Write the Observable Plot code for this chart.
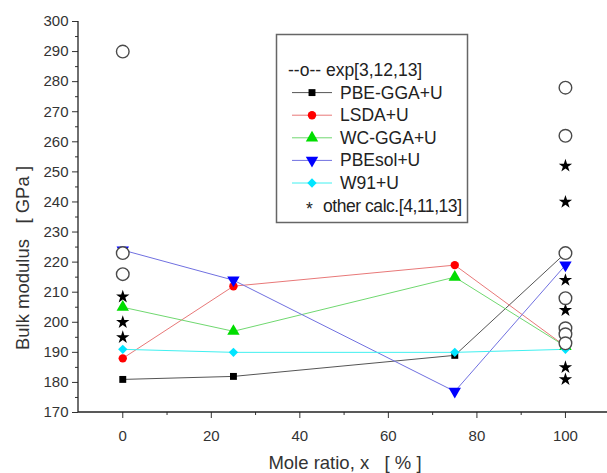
<!DOCTYPE html>
<html>
<head>
<meta charset="utf-8">
<script src="https://cdn.jsdelivr.net/npm/d3@7"></script>
<script src="https://cdn.jsdelivr.net/npm/@observablehq/plot@0.6"></script>
<style>
  html, body { margin: 0; padding: 0; background: #fff; }
  #chart { position: relative; width: 607px; height: 473px; }
</style>
</head>
<body>
<div id="chart"></div>
<script>
// ---- data ----
const ratios = [0, 25, 75, 100];
const seriesNames = ["PBE-GGA+U", "LSDA+U", "WC-GGA+U", "PBEsol+U", "W91+U"];
const pbeGGA = [181, 182, 189, 223];
const lsda = [188, 212, 219, 192];
const wcGGA = [205, 197, 215, 192];
const pbesol = [224, 214, 177, 219];
const w91 = [191, 190, 190, 191];
const seriesColors = ["#000000", "#ff0000", "#00dd00", "#0000ff", "#00e5ff"];
const lineColors = ["#555555", "#e87878", "#70d870", "#7070e0", "#40f0f0"];
const seriesSymbols = ["square", "circle", "triangle", "triangle", "diamond2"];
const seriesRotate = [0, 0, 0, 180, 0];
const seriesR = [3.9, 4.2, 4.6, 4.6, 4.2];

const expX = [0, 0, 0, 100, 100, 100, 100, 100, 100, 100];
const expY = [290, 223, 216, 278, 262, 223, 208, 198, 196, 193];
const otherX = [0, 0, 0, 100, 100, 100, 100, 100, 100];
const otherY = [208.5, 200, 195, 252, 240, 214, 204, 185, 181];

const yMajor = [170, 180, 190, 200, 210, 220, 230, 240, 250, 260, 270, 280, 290, 300];
const yMinor = [175, 185, 195, 205, 215, 225, 235, 245, 255, 265, 275, 285, 295];
const xMajor = [0, 20, 40, 60, 80, 100];
const xMinor = [10, 30, 50, 70, 90];

const legendLabels = ["--o-- exp[3,12,13]", ...seriesNames, "other calc.[4,11,13]"];
const yTitle = "Bulk modulus   [ GPa ]";
const xTitle = "Mole ratio, x   [ % ]";

// ---- tables ----
const allSeries = [pbeGGA, lsda, wcGGA, pbesol, w91];
const rows = [];
allSeries.forEach((vals, i) => vals.forEach((v, j) => rows.push({x: ratios[j], y: v, s: seriesNames[i], i})));
const expRows = expX.map((x, i) => ({x, y: expY[i]}));
const otherRows = otherX.map((x, i) => ({x, y: otherY[i]}));

const font = "'Liberation Sans', Arial, sans-serif";

const marks = [
  Plot.axisY({ticks: yMajor, tickSize: 6, tickPadding: 4, label: null, fontSize: 15, fill: "#333"}),
  Plot.axisY({ticks: yMinor, tickSize: 3, tickFormat: () => "", label: null}),
  Plot.axisX({ticks: xMajor, tickSize: 6, tickPadding: 12, label: null, fontSize: 15, fill: "#333"}),
  Plot.axisX({ticks: xMinor, tickSize: 3, tickFormat: () => "", label: null}),
];
seriesNames.forEach((name, i) => {
  marks.push(Plot.line(rows.filter(d => d.i === i), {x: "x", y: "y", stroke: lineColors[i], strokeWidth: 1}));
});
seriesNames.forEach((name, i) => {
  marks.push(Plot.dot(rows.filter(d => d.i === i), {x: "x", y: "y", fill: seriesColors[i], stroke: "none", symbol: seriesSymbols[i], rotate: seriesRotate[i], r: seriesR[i]}));
});
marks.push(Plot.dot(otherRows, {x: "x", y: "y", symbol: "star", fill: "#000", r: 4.2}));
marks.push(Plot.dot(expRows, {x: "x", y: "y", symbol: "circle", fill: "#fff", stroke: "#4a4a4a", strokeWidth: 1.4, r: 6.3}));

const chart = Plot.plot({
  width: 607,
  height: 473,
  marginLeft: 78,
  marginRight: 0,
  marginTop: 21,
  marginBottom: 61,
  x: {domain: [-10, 109.5]},
  y: {domain: [170, 300]},
  style: {fontFamily: font, fontSize: "15px", color: "#333", background: "#fff", overflow: "visible"},
  marks
});
document.getElementById("chart").appendChild(chart);

// axis lines, titles and legend
const svg = d3.select(chart);
const sx = chart.scale("x"), sy = chart.scale("y");
const x0 = sx.apply(-10), x1 = sx.apply(109.5), y0 = sy.apply(170), y1 = sy.apply(300);
svg.append("line").attr("x1", x0).attr("x2", x0).attr("y1", y0).attr("y2", y1).attr("stroke", "#222").attr("stroke-width", 1.3);
svg.append("line").attr("x1", x0).attr("x2", x1).attr("y1", y0).attr("y2", y0).attr("stroke", "#222").attr("stroke-width", 1.3);

svg.append("text").attr("transform", "translate(29,258) rotate(-90)").style("white-space", "pre")
  .attr("text-anchor", "middle").attr("font-family", font).attr("font-size", 18.5).attr("fill", "#333")
  .text(yTitle);
svg.append("text").attr("x", 345).attr("y", 469).style("white-space", "pre")
  .attr("text-anchor", "middle").attr("font-family", font).attr("font-size", 18.5).attr("fill", "#333")
  .text(xTitle);

const lg = svg.append("g").attr("text-anchor", "start");
const lfs = 17.5;
lg.append("rect").attr("x", 276.5).attr("y", 34.5).attr("width", 191).attr("height", 188)
  .attr("fill", "#fff").attr("stroke", "#666").attr("stroke-width", 1.5);
const ly0 = 70, ldy = 22.6;
lg.append("text").attr("x", 288).attr("y", ly0 + 6).attr("text-anchor", "start").attr("font-family", font).attr("font-size", lfs).attr("fill", "#222")
  .text(legendLabels[0]);
seriesNames.forEach((name, i) => {
  const y = ly0 + ldy * (i + 1);
  lg.append("line").attr("x1", 292).attr("x2", 332).attr("y1", y).attr("y2", y)
    .attr("stroke", lineColors[i]).attr("stroke-width", 1);
  const sym = {square: d3.symbolSquare, circle: d3.symbolCircle, triangle: d3.symbolTriangle, diamond2: d3.symbolDiamond2}[seriesSymbols[i]];
  lg.append("path").attr("d", d3.symbol(sym, Math.PI * seriesR[i] * seriesR[i])())
    .attr("transform", `translate(312,${y}) rotate(${seriesRotate[i]})`).attr("fill", seriesColors[i]);
  lg.append("text").attr("x", 340).attr("y", y + 6).attr("text-anchor", "start").attr("font-family", font).attr("font-size", lfs).attr("fill", "#222")
    .text(name);
});
const yo = ly0 + ldy * 6;
lg.append("text").attr("x", 306).attr("y", yo + 9).attr("text-anchor", "start").attr("font-family", font).attr("font-size", lfs).attr("fill", "#222").text("*");
lg.append("text").attr("x", 323).attr("y", yo + 6).attr("text-anchor", "start").attr("font-family", font).attr("font-size", lfs).attr("fill", "#222")
  .attr("letter-spacing", -0.45).text(legendLabels[6]);
</script>
</body>
</html>
